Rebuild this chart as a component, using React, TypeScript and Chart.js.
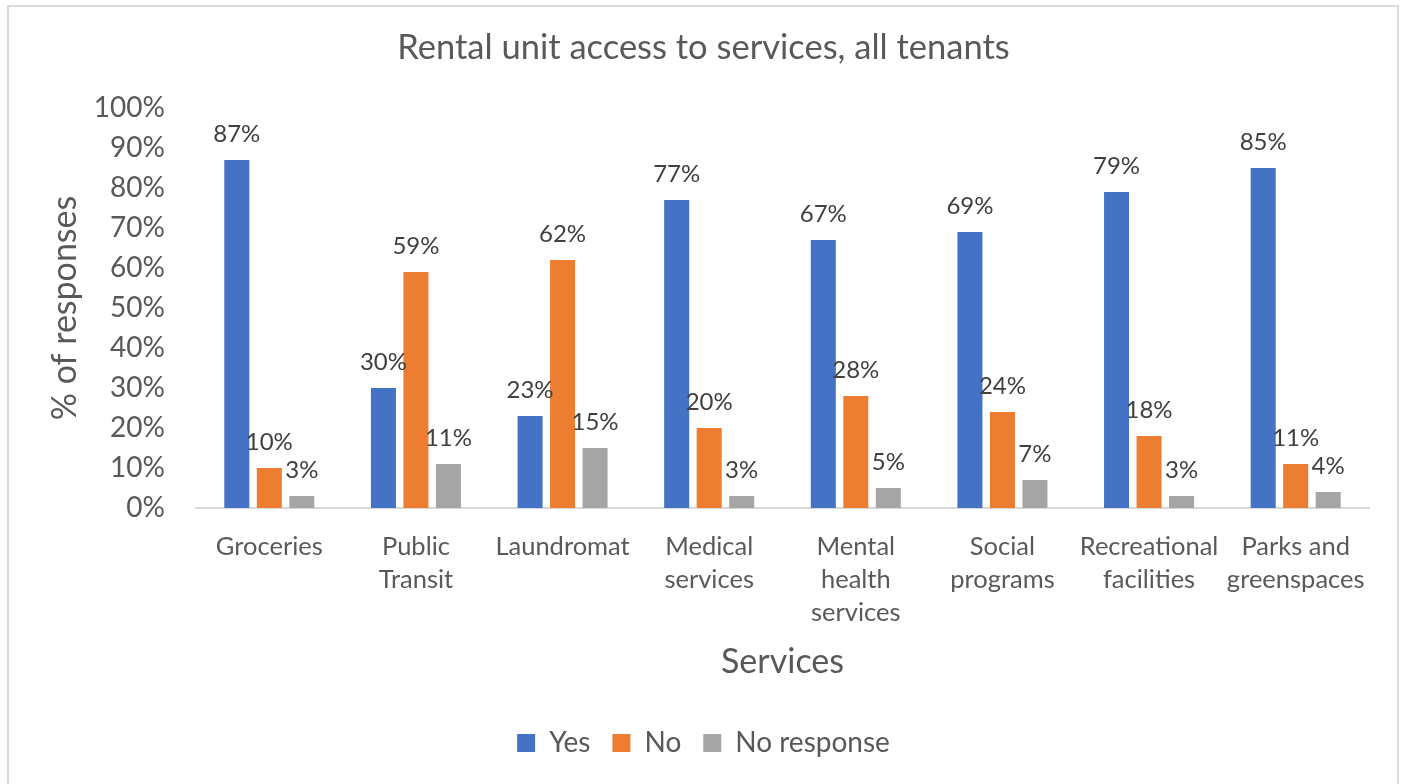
import React, { useEffect, useRef } from "react";
import { Chart, registerables } from "chart.js";

Chart.register(...registerables);

const categories: (string | string[])[] = [
  "Groceries",
  ["Public", "Transit"],
  "Laundromat",
  ["Medical", "services"],
  ["Mental", "health", "services"],
  ["Social", "programs"],
  ["Recreational", "facilities"],
  ["Parks and", "greenspaces"],
];
const yesValues = [87, 30, 23, 77, 67, 69, 79, 85];
const noValues = [10, 59, 62, 20, 28, 24, 18, 11];
const noResponseValues = [3, 11, 15, 3, 5, 7, 3, 4];
const seriesNames = ["Yes", "No", "No response"];

const FONT = "Lato, 'Liberation Sans', sans-serif";
const TEXT = "#595959";

const dataLabelPlugin = {
  id: "dataLabels",
  afterDatasetsDraw(chart: any) {
    const ctx = chart.ctx;
    ctx.save();
    ctx.font = `24px ${FONT}`;
    ctx.fillStyle = "#404040";
    ctx.textAlign = "center";
    ctx.textBaseline = "alphabetic";
    chart.data.datasets.forEach((ds: any, di: number) => {
      const meta = chart.getDatasetMeta(di);
      meta.data.forEach((el: any, i: number) => {
        ctx.fillText(`${ds.data[i]}%`, el.x, el.y - 18);
      });
    });
    ctx.restore();
  },
};

const borderPlugin = {
  id: "outerBorder",
  beforeDraw(chart: any) {
    const ctx = chart.ctx;
    ctx.save();
    ctx.fillStyle = "#ffffff";
    ctx.fillRect(0, 0, chart.width, chart.height);
    ctx.strokeStyle = "#d9d9d9";
    ctx.lineWidth = 2;
    ctx.strokeRect(8, 6, 1390, 800);
    ctx.restore();
  },
};

export default function App() {
  const ref = useRef<HTMLCanvasElement | null>(null);
  useEffect(() => {
    document.body.style.margin = "0";
    if (!ref.current) return;
    const chart = new Chart(ref.current, {
      type: "bar",
      data: {
        labels: categories as any,
        datasets: [
          { label: seriesNames[0], data: yesValues, backgroundColor: "#4472C4" },
          { label: seriesNames[1], data: noValues, backgroundColor: "#ED7D31" },
          { label: seriesNames[2], data: noResponseValues, backgroundColor: "#A5A5A5" },
        ],
      },
      options: {
        responsive: false,
        animation: false,
        devicePixelRatio: 1,
        datasets: { bar: { categoryPercentage: 0.665, barPercentage: 0.77 } },
        layout: { padding: { left: 38, right: 32, top: 0, bottom: 17 } },
        plugins: {
          title: {
            display: true,
            text: "Rental unit access to services, all tenants",
            color: TEXT,
            font: { family: FONT, size: 34.5, weight: "normal", lineHeight: 1.2 },
            padding: { top: 27.3, bottom: 39.3 },
          },
          legend: {
            position: "bottom",
            labels: {
              color: TEXT,
              font: { family: FONT, size: 28 },
              boxWidth: 18,
              boxHeight: 18,
              padding: 22,
            },
          },
          tooltip: { enabled: false },
        },
        scales: {
          x: {
            grid: { display: false, drawTicks: false },
            border: { display: true, color: "#d9d9d9", width: 2 },
            ticks: {
              color: TEXT,
              font: { family: FONT, size: 25.5, lineHeight: 1.3 },
              padding: 22,
              maxRotation: 0,
              autoSkip: false,
            },
            title: {
              display: true,
              text: "Services",
              color: TEXT,
              font: { family: FONT, size: 34, lineHeight: 1.2 },
              padding: { top: 0, bottom: 24.6 },
            },
            afterFit(scale: any) {
              scale.height = 199;
            },
          },
          y: {
            min: 0,
            max: 100,
            grid: { display: false, drawTicks: false },
            border: { display: false },
            ticks: {
              stepSize: 10,
              color: TEXT,
              font: { family: FONT, size: 28 },
              padding: 31,
              callback: (v: any) => `${v}%`,
            },
            title: {
              display: true,
              text: "% of responses",
              color: TEXT,
              font: { family: FONT, size: 34, lineHeight: 1.2 },
              padding: { top: 6.6, bottom: 0 },
            },
            afterFit(scale: any) {
              scale.width = 158;
            },
          },
        },
      },
      plugins: [borderPlugin, dataLabelPlugin],
    });
    return () => chart.destroy();
  }, []);
  return (
    <div style={{ width: 1401, height: 784 }}>
      <canvas ref={ref} width={1401} height={784} style={{ display: "block" }} />
    </div>
  );
}
